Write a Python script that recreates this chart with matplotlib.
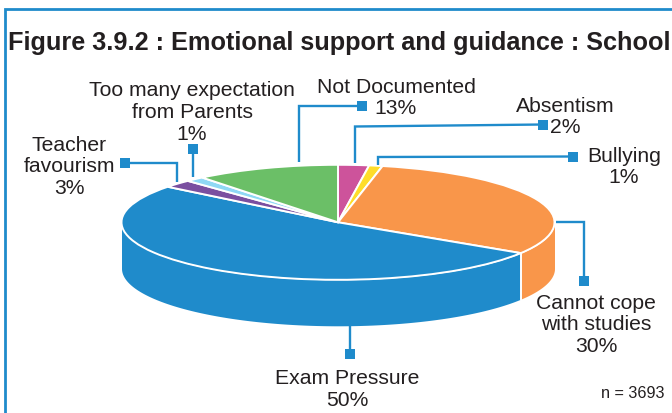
import numpy as np
import matplotlib
matplotlib.use("Agg")
import matplotlib.pyplot as plt

plt.rcParams['font.family'] = ['Liberation Sans', 'DejaVu Sans']

title = "Figure 3.9.2 : Emotional support and guidance : School"
categories = ["Absentism", "Bullying", "Cannot cope\nwith studies", "Exam Pressure",
              "Teacher\nfavourism", "Too many expectation\nfrom Parents", "Not Documented"]
percent_labels = ["2%", "1%", "30%", "50%", "3%", "1%", "13%"]
drawn_shares = [2.3, 1.0, 30.7, 51.6, 2.2, 1.4, 10.8]
colors = ["#cd539b", "#fedd2a", "#f9964a", "#1f8bcb", "#7a4fa0", "#8fd8f5", "#6bbf67"]
note = "n = 3693"

W, H = 672, 414
CX, CY, RX, RY, DEPTH = 338, 223.3, 216.5, 57.5, 46
BLUE = "#1f8bcb"
INK = "#231f20"

fig = plt.figure(figsize=(W / 100, H / 100), dpi=100)

# pie axes: unit ellipse scaled to the perspective of the reference
ax = fig.add_axes([0, 0, 1, 1])
ax.pie(drawn_shares, colors=colors, startangle=90, counterclock=False, radius=1,
       wedgeprops=dict(edgecolor="white", linewidth=1.4))
ax.set_aspect("auto")
ax.set_xlim((0 - CX) / RX, (W - CX) / RX)
ax.set_ylim((CY - H) / RY, CY / RY)
ax.axis("off")

edges = np.concatenate([[0], np.cumsum(drawn_shares)]) / np.sum(drawn_shares) * 360
d = DEPTH / RY
for i, c in enumerate(colors):
    a0, a1 = max(edges[i], 90), min(edges[i + 1], 270)
    if a1 <= a0:
        continue
    t = np.radians(np.linspace(a0, a1, 200))
    order = np.argsort(np.sin(t))
    x, y = np.sin(t)[order], np.cos(t)[order]
    ax.fill_between(x, y, y - d, color=c, linewidth=0, zorder=0)
    if edges[i + 1] < 270:
        xe, ye = np.sin(np.radians(a1)), np.cos(np.radians(a1))
        ax.plot([xe, xe], [ye, ye - d], color="white", lw=1.4, zorder=0.5)

# overlay in pixel coordinates for frame, leaders and texts
ov = fig.add_axes([0, 0, 1, 1])
ov.set_xlim(0, W)
ov.set_ylim(H, 0)
ov.axis("off")
ov.patch.set_alpha(0)

ov.plot([5.3, 5.3, W], [H, 10.3, 10.3], color=BLUE, lw=2.0, solid_joinstyle="miter")
ov.text(7.5, 43.0, title, fontsize=18.16, fontweight="bold", color=INK, ha="left", va="center")

leaders = [
    ([355, 355, 543], [164, 127.5, 125.5]),
    ([378, 378, 573], [166, 158, 157.5]),
    ([556, 584, 584], [223, 223, 282]),
    ([350, 350], [327, 355]),
    ([177, 177, 124.5], [183, 164, 164]),
    ([193, 193], [178, 150]),
    ([299, 299, 362], [163, 106.5, 106.5]),
]
for xs, ys in leaders:
    ov.plot(xs, ys, color=BLUE, lw=1.7, solid_joinstyle="miter", solid_capstyle="butt")
    ov.plot(xs[-1], ys[-1], marker="s", ms=7.6, color=BLUE, mew=0)

label_pos = [(565, 117), (624, 167), (596, 325), (347, 389.5), (69, 167), (192, 112.5), (396, 98)]
for cat, pct, (x, y) in zip(categories, percent_labels, label_pos):
    ov.text(x, y, f"{cat}\n{pct}", fontsize=15.2, color=INK, ha="center", va="center",
            linespacing=1.17, multialignment="center")

ov.text(632.5, 393.5, note, fontsize=11.7, color=INK, ha="center", va="center")

fig.savefig("out.png", dpi=100)
